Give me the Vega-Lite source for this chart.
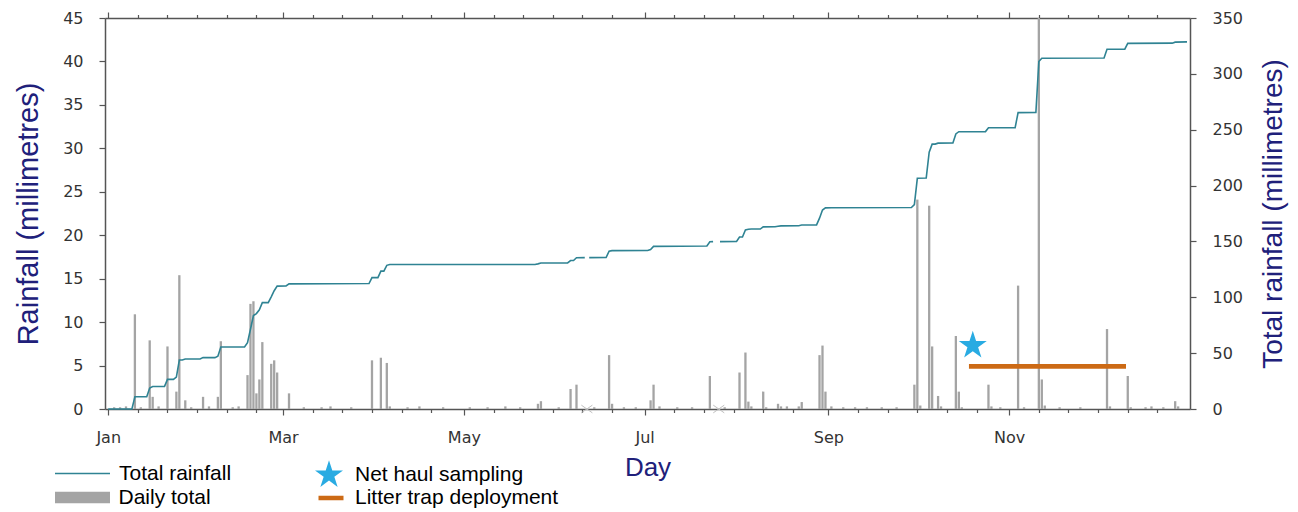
{
  "$schema": "https://vega.github.io/schema/vega-lite/v6.json",
  "width": 1085,
  "height": 391,
  "autosize": {"type": "none"},
  "padding": {"left": 105, "top": 18, "right": 108, "bottom": 103},
  "background": "white",
  "config": {"view": {"stroke": null}, "axis": {"grid": false}, "legend": {"padding": 0}},
  "datasets": {
    "daily": [
      {"date": "2015/01/03", "mm": 0.2}, {"date": "2015/01/05", "mm": 0.2}, {"date": "2015/01/07", "mm": 0.3},
      {"date": "2015/01/10", "mm": 10.9}, {"date": "2015/01/12", "mm": 0.2}, {"date": "2015/01/15", "mm": 7.9},
      {"date": "2015/01/16", "mm": 1.4}, {"date": "2015/01/18", "mm": 0.3}, {"date": "2015/01/21", "mm": 7.2},
      {"date": "2015/01/24", "mm": 2.0}, {"date": "2015/01/25", "mm": 15.4}, {"date": "2015/01/27", "mm": 1.0},
      {"date": "2015/01/29", "mm": 0.2}, {"date": "2015/02/02", "mm": 1.4}, {"date": "2015/02/04", "mm": 0.3},
      {"date": "2015/02/07", "mm": 1.4}, {"date": "2015/02/08", "mm": 7.8}, {"date": "2015/02/12", "mm": 0.2},
      {"date": "2015/02/14", "mm": 0.3}, {"date": "2015/02/17", "mm": 3.9}, {"date": "2015/02/18", "mm": 12.1},
      {"date": "2015/02/19", "mm": 12.4}, {"date": "2015/02/20", "mm": 1.8}, {"date": "2015/02/21", "mm": 3.4},
      {"date": "2015/02/22", "mm": 7.7}, {"date": "2015/02/25", "mm": 5.2}, {"date": "2015/02/26", "mm": 5.6},
      {"date": "2015/02/27", "mm": 4.2}, {"date": "2015/03/03", "mm": 1.8}, {"date": "2015/03/08", "mm": 0.2},
      {"date": "2015/03/14", "mm": 0.2}, {"date": "2015/03/17", "mm": 0.3}, {"date": "2015/03/24", "mm": 0.2},
      {"date": "2015/03/31", "mm": 5.6}, {"date": "2015/04/03", "mm": 5.9}, {"date": "2015/04/05", "mm": 5.3},
      {"date": "2015/04/06", "mm": 0.3}, {"date": "2015/04/12", "mm": 0.2}, {"date": "2015/04/16", "mm": 0.3},
      {"date": "2015/04/24", "mm": 0.2}, {"date": "2015/05/03", "mm": 0.2}, {"date": "2015/05/09", "mm": 0.2},
      {"date": "2015/05/15", "mm": 0.3}, {"date": "2015/05/20", "mm": 0.2}, {"date": "2015/05/26", "mm": 0.6},
      {"date": "2015/05/27", "mm": 0.9}, {"date": "2015/06/02", "mm": 0.2}, {"date": "2015/06/06", "mm": 2.3},
      {"date": "2015/06/08", "mm": 2.8}, {"date": "2015/06/14", "mm": 0.2}, {"date": "2015/06/19", "mm": 6.2},
      {"date": "2015/06/20", "mm": 0.6}, {"date": "2015/06/24", "mm": 0.2}, {"date": "2015/06/28", "mm": 0.2},
      {"date": "2015/07/03", "mm": 1.0}, {"date": "2015/07/04", "mm": 2.8}, {"date": "2015/07/06", "mm": 0.3},
      {"date": "2015/07/12", "mm": 0.2}, {"date": "2015/07/17", "mm": 0.2}, {"date": "2015/07/23", "mm": 3.8},
      {"date": "2015/07/28", "mm": 0.2}, {"date": "2015/08/02", "mm": 4.2}, {"date": "2015/08/04", "mm": 6.5},
      {"date": "2015/08/05", "mm": 0.85}, {"date": "2015/08/06", "mm": 0.3}, {"date": "2015/08/10", "mm": 2.0},
      {"date": "2015/08/11", "mm": 0.2}, {"date": "2015/08/15", "mm": 0.6}, {"date": "2015/08/16", "mm": 0.3},
      {"date": "2015/08/18", "mm": 0.3}, {"date": "2015/08/22", "mm": 0.3}, {"date": "2015/08/23", "mm": 0.8},
      {"date": "2015/08/29", "mm": 6.2}, {"date": "2015/08/30", "mm": 7.3}, {"date": "2015/08/31", "mm": 2.0},
      {"date": "2015/09/02", "mm": 0.3}, {"date": "2015/09/06", "mm": 0.2}, {"date": "2015/09/10", "mm": 0.2},
      {"date": "2015/09/14", "mm": 0.2}, {"date": "2015/09/19", "mm": 0.2}, {"date": "2015/09/24", "mm": 0.2},
      {"date": "2015/09/30", "mm": 2.8}, {"date": "2015/10/01", "mm": 24.1}, {"date": "2015/10/02", "mm": 0.4},
      {"date": "2015/10/05", "mm": 23.4}, {"date": "2015/10/06", "mm": 7.2}, {"date": "2015/10/08", "mm": 1.5},
      {"date": "2015/10/09", "mm": 0.3}, {"date": "2015/10/14", "mm": 8.4}, {"date": "2015/10/15", "mm": 2.0},
      {"date": "2015/10/16", "mm": 0.2}, {"date": "2015/10/25", "mm": 2.8}, {"date": "2015/10/26", "mm": 0.3},
      {"date": "2015/10/29", "mm": 0.2}, {"date": "2015/11/04", "mm": 14.2}, {"date": "2015/11/06", "mm": 0.2},
      {"date": "2015/11/11", "mm": 45.6}, {"date": "2015/11/12", "mm": 3.4}, {"date": "2015/11/13", "mm": 0.4},
      {"date": "2015/11/18", "mm": 0.2}, {"date": "2015/11/25", "mm": 0.2}, {"date": "2015/12/04", "mm": 9.2},
      {"date": "2015/12/05", "mm": 0.3}, {"date": "2015/12/11", "mm": 3.8}, {"date": "2015/12/12", "mm": 0.2},
      {"date": "2015/12/17", "mm": 0.2}, {"date": "2015/12/19", "mm": 0.3}, {"date": "2015/12/23", "mm": 0.2},
      {"date": "2015/12/27", "mm": 0.9}, {"date": "2015/12/28", "mm": 0.3}
    ],
    "total": [
      {"date": "2015/01/01", "total": 0, "seg": 1}, {"date": "2015/01/09", "total": 0, "seg": 1},
      {"date": "2015/01/10", "total": 10.9, "seg": 1}, {"date": "2015/01/14", "total": 10.9, "seg": 1},
      {"date": "2015/01/15", "total": 18.8, "seg": 1}, {"date": "2015/01/16", "total": 20.2, "seg": 1},
      {"date": "2015/01/20", "total": 20.2, "seg": 1}, {"date": "2015/01/21", "total": 26.5, "seg": 1},
      {"date": "2015/01/23", "total": 26.5, "seg": 1}, {"date": "2015/01/24", "total": 28.5, "seg": 1},
      {"date": "2015/01/25", "total": 43.8, "seg": 1}, {"date": "2015/01/26", "total": 43.8, "seg": 1},
      {"date": "2015/01/27", "total": 44.8, "seg": 1}, {"date": "2015/02/01", "total": 44.8, "seg": 1},
      {"date": "2015/02/02", "total": 46.0, "seg": 1}, {"date": "2015/02/06", "total": 46.0, "seg": 1},
      {"date": "2015/02/07", "total": 47.3, "seg": 1}, {"date": "2015/02/08", "total": 55.5, "seg": 1},
      {"date": "2015/02/16", "total": 55.5, "seg": 1}, {"date": "2015/02/17", "total": 59.4, "seg": 1},
      {"date": "2015/02/18", "total": 71.4, "seg": 1}, {"date": "2015/02/19", "total": 83.6, "seg": 1},
      {"date": "2015/02/20", "total": 85.4, "seg": 1}, {"date": "2015/02/21", "total": 88.8, "seg": 1},
      {"date": "2015/02/22", "total": 95.2, "seg": 1}, {"date": "2015/02/24", "total": 95.2, "seg": 1},
      {"date": "2015/02/25", "total": 100.4, "seg": 1}, {"date": "2015/02/26", "total": 105.9, "seg": 1},
      {"date": "2015/02/27", "total": 110.0, "seg": 1}, {"date": "2015/03/02", "total": 110.2, "seg": 1},
      {"date": "2015/03/03", "total": 112.0, "seg": 1}, {"date": "2015/03/30", "total": 112.3, "seg": 1},
      {"date": "2015/03/31", "total": 117.6, "seg": 1}, {"date": "2015/04/02", "total": 117.6, "seg": 1},
      {"date": "2015/04/03", "total": 123.4, "seg": 1}, {"date": "2015/04/04", "total": 123.4, "seg": 1},
      {"date": "2015/04/05", "total": 128.6, "seg": 1}, {"date": "2015/04/06", "total": 129.3, "seg": 1},
      {"date": "2015/05/25", "total": 129.4, "seg": 1}, {"date": "2015/05/26", "total": 129.9, "seg": 1},
      {"date": "2015/05/27", "total": 130.7, "seg": 1}, {"date": "2015/06/05", "total": 130.8, "seg": 1},
      {"date": "2015/06/06", "total": 132.9, "seg": 1}, {"date": "2015/06/07", "total": 132.9, "seg": 1},
      {"date": "2015/06/08", "total": 135.4, "seg": 1}, {"date": "2015/06/10 19:00", "total": 135.5, "seg": 1},
      {"date": "2015/06/12 07:00", "total": 135.5, "seg": 2}, {"date": "2015/06/18", "total": 135.6, "seg": 2},
      {"date": "2015/06/19", "total": 141.3, "seg": 2}, {"date": "2015/06/20", "total": 141.8, "seg": 2},
      {"date": "2015/07/02", "total": 141.9, "seg": 2}, {"date": "2015/07/03", "total": 142.8, "seg": 2},
      {"date": "2015/07/04", "total": 145.6, "seg": 2}, {"date": "2015/07/22", "total": 145.9, "seg": 2},
      {"date": "2015/07/23", "total": 149.7, "seg": 2}, {"date": "2015/07/24 02:00", "total": 149.8, "seg": 2},
      {"date": "2015/07/26 10:00", "total": 149.8, "seg": 3}, {"date": "2015/08/01", "total": 149.9, "seg": 3},
      {"date": "2015/08/02", "total": 154.0, "seg": 3}, {"date": "2015/08/03", "total": 154.0, "seg": 3},
      {"date": "2015/08/04", "total": 160.2, "seg": 3}, {"date": "2015/08/05", "total": 160.9, "seg": 3},
      {"date": "2015/08/06", "total": 161.1, "seg": 3}, {"date": "2015/08/09", "total": 161.1, "seg": 3},
      {"date": "2015/08/10", "total": 163.0, "seg": 3}, {"date": "2015/08/14", "total": 163.1, "seg": 3},
      {"date": "2015/08/15", "total": 163.6, "seg": 3}, {"date": "2015/08/16", "total": 163.9, "seg": 3},
      {"date": "2015/08/22", "total": 164.1, "seg": 3}, {"date": "2015/08/23", "total": 164.7, "seg": 3},
      {"date": "2015/08/28", "total": 164.8, "seg": 3}, {"date": "2015/08/29", "total": 170.8, "seg": 3},
      {"date": "2015/08/30", "total": 178.1, "seg": 3}, {"date": "2015/08/31", "total": 180.0, "seg": 3},
      {"date": "2015/09/02", "total": 180.2, "seg": 3}, {"date": "2015/09/29", "total": 180.4, "seg": 3},
      {"date": "2015/09/30", "total": 183.0, "seg": 3}, {"date": "2015/10/01", "total": 206.5, "seg": 3},
      {"date": "2015/10/04", "total": 206.7, "seg": 3}, {"date": "2015/10/05", "total": 229.9, "seg": 3},
      {"date": "2015/10/06", "total": 237.1, "seg": 3}, {"date": "2015/10/07", "total": 237.1, "seg": 3},
      {"date": "2015/10/08", "total": 238.0, "seg": 3}, {"date": "2015/10/13", "total": 238.1, "seg": 3},
      {"date": "2015/10/14", "total": 246.2, "seg": 3}, {"date": "2015/10/15", "total": 248.2, "seg": 3},
      {"date": "2015/10/24", "total": 248.3, "seg": 3}, {"date": "2015/10/25", "total": 251.7, "seg": 3},
      {"date": "2015/11/03", "total": 251.9, "seg": 3}, {"date": "2015/11/04", "total": 265.3, "seg": 3},
      {"date": "2015/11/10", "total": 265.4, "seg": 3}, {"date": "2015/11/11", "total": 311.0, "seg": 3},
      {"date": "2015/11/12", "total": 314.0, "seg": 3}, {"date": "2015/12/03", "total": 314.2, "seg": 3},
      {"date": "2015/12/04", "total": 322.0, "seg": 3}, {"date": "2015/12/10", "total": 322.1, "seg": 3},
      {"date": "2015/12/11", "total": 327.3, "seg": 3}, {"date": "2015/12/26", "total": 327.5, "seg": 3},
      {"date": "2015/12/27", "total": 328.4, "seg": 3}, {"date": "2015/12/31", "total": 328.6, "seg": 3}
    ],
    "missing": [{"date": "2015/06/11 12:00", "mm": 0}, {"date": "2015/07/26 00:00", "mm": 0}],
    "sampling": [{"date": "2015/10/19 17:00", "mm": 7.3}],
    "deployment": [{"date": "2015/10/18 10:00", "end": "2015/12/10 10:00", "mm": 4.9}]
  },
  "layer": [
    {
      "data": {"name": "daily"},
      "mark": {"type": "bar", "width": 2.3, "clip": true},
      "encoding": {
        "x": {
          "field": "date", "type": "temporal",
          "scale": {"domain": [{"year": 2014, "month": 12, "date": 30, "hours": 22}, {"year": 2016, "month": 1, "date": 1}], "nice": false, "padding": 0},
          "axis": {
            "orient": "bottom",
            "values": [
              {"year":2015,"month":1,"date":1},{"year":2015,"month":1,"date":11},{"year":2015,"month":1,"date":21},{"year":2015,"month":1,"date":31},{"year":2015,"month":2,"date":10},{"year":2015,"month":2,"date":20},
              {"year":2015,"month":3,"date":1},{"year":2015,"month":3,"date":11},{"year":2015,"month":3,"date":21},{"year":2015,"month":3,"date":31},{"year":2015,"month":4,"date":10},{"year":2015,"month":4,"date":20},
              {"year":2015,"month":5,"date":1},{"year":2015,"month":5,"date":11},{"year":2015,"month":5,"date":21},{"year":2015,"month":5,"date":31},{"year":2015,"month":6,"date":10},{"year":2015,"month":6,"date":20},
              {"year":2015,"month":7,"date":1},{"year":2015,"month":7,"date":11},{"year":2015,"month":7,"date":21},{"year":2015,"month":7,"date":31},{"year":2015,"month":8,"date":10},{"year":2015,"month":8,"date":20},
              {"year":2015,"month":9,"date":1},{"year":2015,"month":9,"date":11},{"year":2015,"month":9,"date":21},{"year":2015,"month":10,"date":1},{"year":2015,"month":10,"date":11},{"year":2015,"month":10,"date":21},
              {"year":2015,"month":11,"date":1},{"year":2015,"month":11,"date":11},{"year":2015,"month":11,"date":21},{"year":2015,"month":12,"date":1},{"year":2015,"month":12,"date":11},{"year":2015,"month":12,"date":21}
            ],
            "labelExpr": "date(datum.value) == 1 && month(datum.value) % 2 == 0 ? timeFormat(datum.value, '%b') : ''",
            "tickSize": {"condition": {"test": "date(datum.value) == 1 && month(datum.value) % 2 == 0", "value": 6}, "value": 3.5},
            "labelOverlap": false, "labelFlush": false, "labelBound": false,
            "labelFont": "DejaVu Sans", "labelFontSize": 16, "labelColor": "#333333", "labelPadding": 14,
            "domainColor": "#555555", "domainWidth": 1.5, "tickColor": "#555555", "tickWidth": 1.2,
            "title": "Day", "titleFont": "Liberation Sans", "titleFontSize": 26, "titleFontWeight": "normal",
            "titleColor": "#20207a", "titlePadding": 9
          }
        },
        "y": {
          "field": "mm", "type": "quantitative",
          "scale": {"domain": [0, 45], "nice": false},
          "axis": {
            "orient": "left", "values": [0, 5, 10, 15, 20, 25, 30, 35, 40, 45],
            "labelFont": "DejaVu Sans", "labelFontSize": 16, "labelColor": "#333333", "labelPadding": 16,
            "labelFlush": false, "tickSize": 6, "tickColor": "#555555", "tickWidth": 1.2,
            "domainColor": "#555555", "domainWidth": 1.5,
            "title": "Rainfall (millimetres)", "titleFont": "Liberation Sans", "titleFontSize": 29,
            "titleFontWeight": "normal", "titleColor": "#20207a", "titlePadding": 19
          }
        },
        "fill": {
          "datum": "Daily total",
          "scale": {"range": ["#a4a4a4"]},
          "legend": {
            "orient": "none", "legendX": -50, "legendY": 452, "title": null,
            "symbolType": "M-1,-0.21H1V0.21H-1Z", "symbolSize": 3025, "symbolStrokeWidth": 0,
            "labelFont": "Liberation Sans", "labelFontSize": 21, "labelColor": "#000000", "labelOffset": 8.5, "labelLimit": 400
          }
        }
      }
    },
    {
      "data": {"name": "missing"},
      "mark": {"type": "point", "shape": "M-1,-0.7L1,0.7M-1,0.7L1,-0.7", "size": 121, "filled": false, "stroke": "#c0c0c0", "strokeWidth": 1, "opacity": 1},
      "encoding": {
        "x": {"field": "date", "type": "temporal", "scale": {"domain": [{"year": 2014, "month": 12, "date": 30, "hours": 22}, {"year": 2016, "month": 1, "date": 1}], "nice": false, "padding": 0}, "axis": null},
        "y": {"field": "mm", "type": "quantitative", "scale": {"domain": [0, 45], "nice": false}, "axis": null}
      }
    },
    {
      "data": {"name": "deployment"},
      "mark": {"type": "rule", "color": "#cc6a15", "strokeWidth": 4.7},
      "encoding": {
        "x": {"field": "date", "type": "temporal", "scale": {"domain": [{"year": 2014, "month": 12, "date": 30, "hours": 22}, {"year": 2016, "month": 1, "date": 1}], "nice": false, "padding": 0}, "axis": null},
        "x2": {"field": "end"},
        "y": {"field": "mm", "type": "quantitative", "scale": {"domain": [0, 45], "nice": false}, "axis": null},
        "strokeDash": {
          "datum": "Litter trap deployment",
          "scale": {"range": [[1, 0]]},
          "legend": {
            "orient": "none", "legendX": 211, "legendY": 465, "title": null,
            "symbolType": "stroke", "symbolSize": 625, "symbolStrokeWidth": 4.7, "symbolStrokeColor": "#cc6a15",
            "labelFont": "Liberation Sans", "labelFontSize": 21, "labelColor": "#000000", "labelOffset": 9, "labelLimit": 400
          }
        }
      }
    },
    {
      "data": {"name": "sampling"},
      "mark": {"type": "point", "filled": true, "fill": "#29abe2", "size": 866, "opacity": 1, "strokeWidth": 0},
      "encoding": {
        "x": {"field": "date", "type": "temporal", "scale": {"domain": [{"year": 2014, "month": 12, "date": 30, "hours": 22}, {"year": 2016, "month": 1, "date": 1}], "nice": false, "padding": 0}, "axis": null},
        "y": {"field": "mm", "type": "quantitative", "scale": {"domain": [0, 45], "nice": false}, "axis": null},
        "shape": {
          "datum": "Net haul sampling",
          "scale": {"range": ["M0,-1L0.225,-0.309L0.951,-0.309L0.363,0.118L0.588,0.809L0,0.382L-0.588,0.809L-0.363,0.118L-0.951,-0.309L-0.225,-0.309Z"]},
          "legend": {
            "orient": "none", "legendX": 209, "legendY": 442, "title": null,
            "symbolSize": 866, "symbolFillColor": "#29abe2", "symbolStrokeWidth": 0,
            "labelFont": "Liberation Sans", "labelFontSize": 21, "labelColor": "#000000", "labelOffset": 11, "labelLimit": 400
          }
        }
      }
    },
    {
      "data": {"name": "total"},
      "mark": {"type": "line", "strokeWidth": 1.6},
      "encoding": {
        "x": {
          "field": "date", "type": "temporal",
          "scale": {"domain": [{"year": 2014, "month": 12, "date": 30, "hours": 22}, {"year": 2016, "month": 1, "date": 1}], "nice": false, "padding": 0},
          "axis": {
            "orient": "top",
            "values": [
              {"year":2015,"month":1,"date":1},{"year":2015,"month":1,"date":11},{"year":2015,"month":1,"date":21},{"year":2015,"month":1,"date":31},{"year":2015,"month":2,"date":10},{"year":2015,"month":2,"date":20},
              {"year":2015,"month":3,"date":1},{"year":2015,"month":3,"date":11},{"year":2015,"month":3,"date":21},{"year":2015,"month":3,"date":31},{"year":2015,"month":4,"date":10},{"year":2015,"month":4,"date":20},
              {"year":2015,"month":5,"date":1},{"year":2015,"month":5,"date":11},{"year":2015,"month":5,"date":21},{"year":2015,"month":5,"date":31},{"year":2015,"month":6,"date":10},{"year":2015,"month":6,"date":20},
              {"year":2015,"month":7,"date":1},{"year":2015,"month":7,"date":11},{"year":2015,"month":7,"date":21},{"year":2015,"month":7,"date":31},{"year":2015,"month":8,"date":10},{"year":2015,"month":8,"date":20},
              {"year":2015,"month":9,"date":1},{"year":2015,"month":9,"date":11},{"year":2015,"month":9,"date":21},{"year":2015,"month":10,"date":1},{"year":2015,"month":10,"date":11},{"year":2015,"month":10,"date":21},
              {"year":2015,"month":11,"date":1},{"year":2015,"month":11,"date":11},{"year":2015,"month":11,"date":21},{"year":2015,"month":12,"date":1},{"year":2015,"month":12,"date":11},{"year":2015,"month":12,"date":21}
            ],
            "labels": false, "title": null,
            "tickSize": {"condition": {"test": "date(datum.value) == 1 && month(datum.value) % 2 == 0", "value": 6}, "value": 3.5},
            "domainColor": "#555555", "domainWidth": 1.5, "tickColor": "#555555", "tickWidth": 1.2
          }
        },
        "y": {
          "field": "total", "type": "quantitative",
          "scale": {"domain": [0, 350], "nice": false},
          "axis": {
            "orient": "right", "values": [0, 50, 100, 150, 200, 250, 300, 350],
            "labelFont": "DejaVu Sans", "labelFontSize": 16, "labelColor": "#333333", "labelPadding": 16,
            "labelFlush": false, "tickSize": 6, "tickColor": "#555555", "tickWidth": 1.2,
            "domainColor": "#555555", "domainWidth": 1.5,
            "title": "Total rainfall (millimetres)", "titleFont": "Liberation Sans", "titleFontSize": 28,
            "titleFontWeight": "normal", "titleColor": "#20207a", "titlePadding": 17,
            "titleAngle": -90, "titleBaseline": "top"
          }
        },
        "detail": {"field": "seg", "type": "nominal"},
        "stroke": {
          "datum": "Total rainfall",
          "scale": {"range": ["#2f8393"]},
          "legend": {
            "orient": "none", "legendX": -51, "legendY": 427, "title": null,
            "symbolType": "stroke", "symbolSize": 3025, "symbolStrokeWidth": 1.6,
            "labelFont": "Liberation Sans", "labelFontSize": 21, "labelColor": "#000000", "labelOffset": 8, "labelLimit": 400
          }
        }
      }
    }
  ],
  "resolve": {"scale": {"y": "independent"}}
}
